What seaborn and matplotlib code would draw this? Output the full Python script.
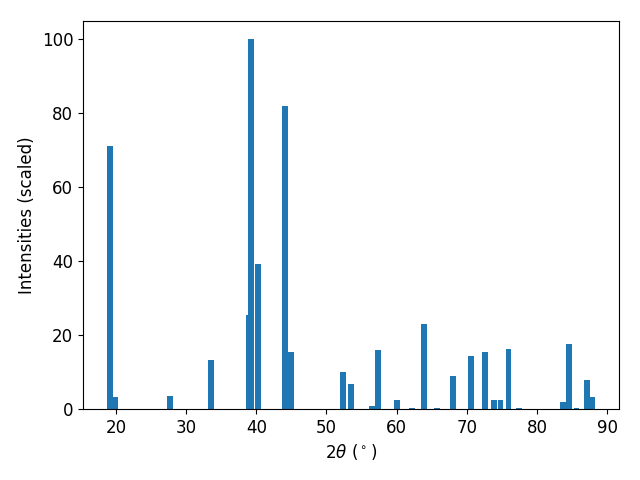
import numpy as np
import pandas as pd
import matplotlib
matplotlib.use("Agg")
import matplotlib.pyplot as plt
import seaborn as sns

# peak positions (2theta, degrees) and scaled intensities
two_theta = [19.19, 19.90, 27.73, 33.58, 38.99, 39.27, 40.27, 44.12, 44.97,
             52.38, 53.45, 56.51, 57.29, 60.00, 62.21, 63.92, 65.77, 68.05,
             70.54, 72.60, 73.89, 74.81, 75.95, 77.45, 83.72, 84.57, 85.64,
             87.14, 87.85]
intensity = [71.3, 3.3, 3.5, 13.3, 25.5, 100.0, 39.3, 82.1, 15.4,
             10.0, 6.8, 0.8, 16.0, 2.4, 0.3, 23.0, 0.3, 8.9,
             14.4, 15.4, 2.4, 2.4, 16.3, 0.3, 1.9, 17.6, 0.3,
             7.9, 3.3]

df = pd.DataFrame({"two_theta": two_theta, "intensity": intensity})

plt.rcParams["font.family"] = ["DejaVu Sans"]

fig, ax = plt.subplots(figsize=(6.4, 4.8), dpi=100)

# seaborn scales bar width by the smallest gap between x values on a native scale
min_gap = np.min(np.diff(np.unique(df["two_theta"])))
sns.barplot(data=df, x="two_theta", y="intensity", native_scale=True,
            width=0.85 / min_gap, color="#1f77b4", saturation=1,
            errorbar=None, linewidth=0, edgecolor="none", ax=ax)

ax.set_xlabel(r"$2\theta$ ($^\circ$)", fontsize=12)
ax.set_ylabel("Intensities (scaled)", fontsize=12)
ax.tick_params(axis="both", labelsize=12)
ax.set_xlim(15.3, 91.7)
ax.set_ylim(0, 105)
ax.set_xticks([20, 30, 40, 50, 60, 70, 80, 90])

fig.subplots_adjust(left=83 / 640, right=619 / 640, top=1 - 21 / 480,
                    bottom=1 - 409 / 480)
plt.savefig("out.png")
plt.close()
